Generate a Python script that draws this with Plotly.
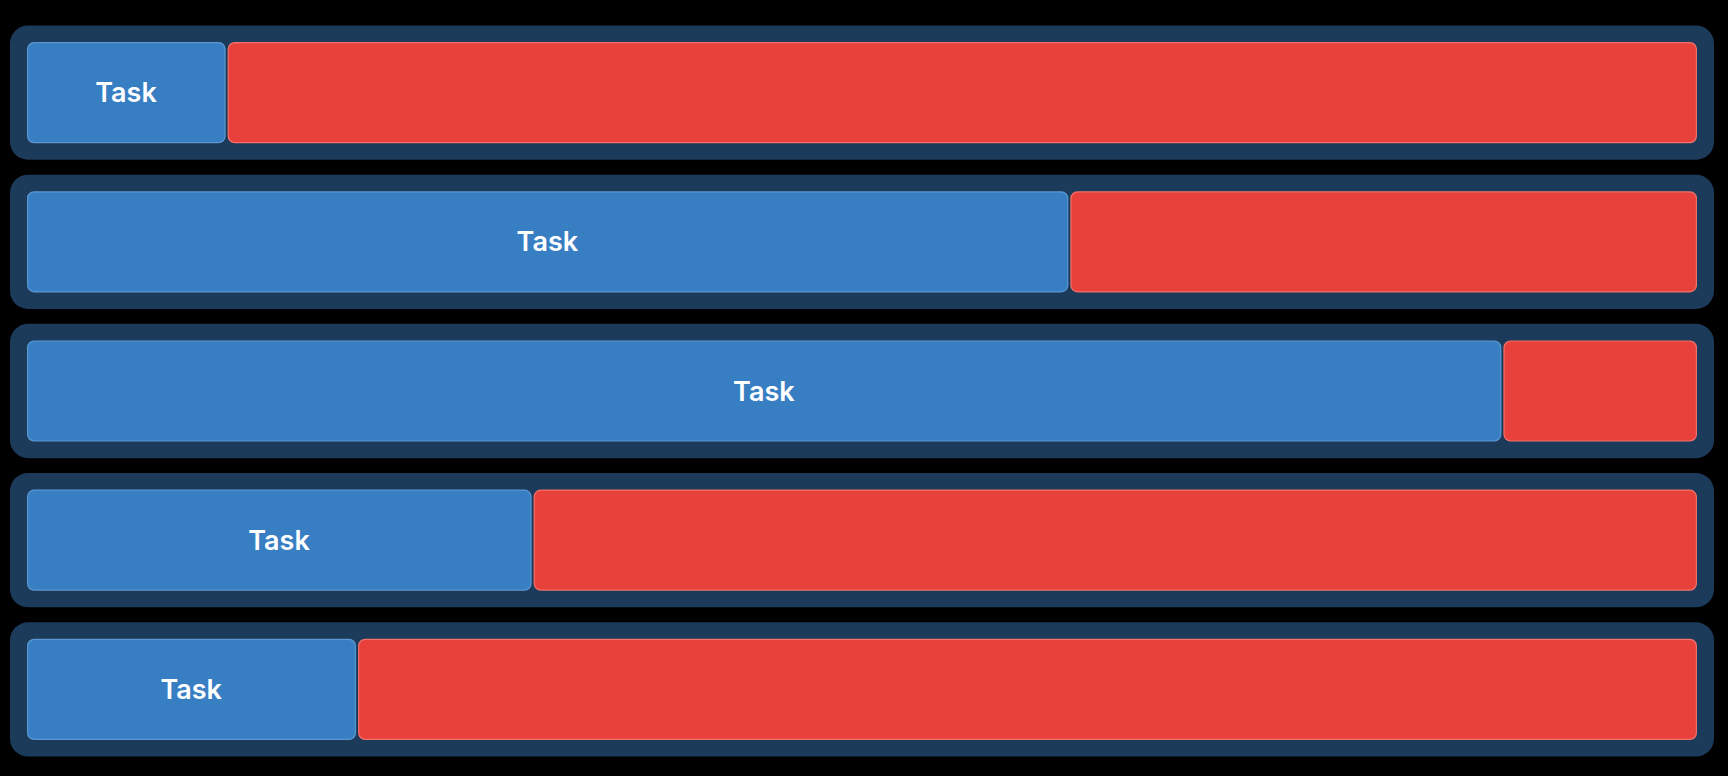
import plotly.graph_objects as go

# ---- data ----
rows = ["r1", "r2", "r3", "r4", "r5"]
task_labels = ["Task", "Task", "Task", "Task", "Task"]
done = [12.0, 62.4, 88.3, 30.3, 19.8]
remaining = [88.0, 37.6, 11.7, 69.7, 80.2]
track = [1, 1, 1, 1, 1]

# ---- style ----
BG = "#000000"
TRACK_COLOR = "#1C3A5A"
BLUE = "#387EC3"
BLUE_EDGE = "#5B98D3"
RED = "#E8413B"
RED_EDGE = "#F2716A"
W, H = 1728, 776
ML, MR, MT, MB = 10, 14, 18, 12
PLOT_W = W - ML - MR
PLOT_H = H - MT - MB
ROW_PX = PLOT_H / len(rows)
PAD = 0.957                         # x2 padding inside the track (data units)
UNIT_PX = (100 + 2 * PAD) / PLOT_W  # data units per pixel on x2
GAP = 1.0 * UNIT_PX                 # half gap between segments
TRACK_WIDTH = 0.90
BAR_WIDTH = 0.678
EDGE_PX = 1.2

fig = go.Figure()


def add_segment(starts, lengths, color, xaxis, width, radius, inset=0.0,
                text=None, font=None):
    fig.add_trace(go.Bar(
        y=rows, x=[max(l - 2 * inset, 0) for l in lengths],
        base=[s + inset for s in starts],
        orientation="h", xaxis=xaxis, yaxis="y", width=width,
        marker=dict(color=color, cornerradius=radius, line=dict(width=0)),
        text=text, textposition="inside" if text else "none",
        insidetextanchor="middle", textangle=0,
        insidetextfont=font, cliponaxis=False,
        hoverinfo="skip", showlegend=False,
    ))


label_font = dict(family="Inter, Open Sans, sans-serif", size=27,
                  color="#FFFFFF", weight=600)

# background tracks (rounded containers)
add_segment([0] * len(rows), track, TRACK_COLOR, "x", TRACK_WIDTH, 18)

# done segments (blue) and remaining segments (red)
blue_starts = [0] * len(rows)
red_starts = done
inner_w = BAR_WIDTH - 2 * EDGE_PX / ROW_PX
add_segment(blue_starts, done, BLUE_EDGE, "x2", BAR_WIDTH, 7, inset=GAP)
add_segment(blue_starts, done, BLUE, "x2", inner_w, 6,
            inset=GAP + EDGE_PX * UNIT_PX, text=task_labels, font=label_font)
add_segment(red_starts, remaining, RED_EDGE, "x2", BAR_WIDTH, 7, inset=GAP)
add_segment(red_starts, remaining, RED, "x2", inner_w, 6,
            inset=GAP + EDGE_PX * UNIT_PX)

fig.update_layout(
    width=W, height=H,
    margin=dict(l=ML, r=MR, t=MT, b=MB, pad=0),
    paper_bgcolor=BG, plot_bgcolor=BG,
    barmode="overlay",
    showlegend=False,
    uniformtext=dict(mode=False),
    xaxis=dict(range=[0, 1], visible=False, fixedrange=True),
    xaxis2=dict(range=[-PAD, 100 + PAD], overlaying="x", visible=False, fixedrange=True),
    yaxis=dict(type="category", categoryorder="array", categoryarray=rows,
               range=[len(rows) - 0.5, -0.5], visible=False, fixedrange=True),
)

fig.write_html("out.html", config={"displayModeBar": False})
